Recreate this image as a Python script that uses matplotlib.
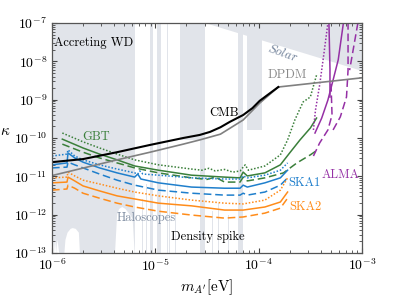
import numpy as np
import matplotlib
matplotlib.use("Agg")
import matplotlib.pyplot as plt
from matplotlib.ticker import FixedLocator, NullFormatter

plt.rcParams['font.family'] = 'serif'
plt.rcParams['font.serif'] = ['cmr10', 'DejaVu Serif']
plt.rcParams['mathtext.fontset'] = 'cm'
plt.rcParams['axes.formatter.use_mathtext'] = True
plt.rcParams['axes.unicode_minus'] = False

# ---------------- data (log10 values) ----------------
x_tick_exp = [-6, -5, -4, -3]
y_tick_exp = [-13, -12, -11, -10, -9, -8, -7]

cmb_logm = [-6.00, -5.70, -5.37, -5.05, -4.73, -4.57, -4.47, -4.37, -4.28, -4.15, -4.06, -3.99, -3.81]
cmb_logk = [-10.63, -10.55, -10.37, -10.18, -10.00, -9.92, -9.84, -9.72, -9.58, -9.40, -9.22, -9.03, -8.67]

dpdm_logm = [-6.00, -5.37, -5.05, -4.73, -4.57, -4.37, -4.15, -3.99, -3.81, -3.00]
dpdm_logk = [-10.98, -10.57, -10.37, -10.16, -10.05, -9.90, -9.53, -9.09, -8.67, -8.43]

gbt_dot_logm = [-5.90, -5.70, -5.54, -5.37, -5.20, -4.97, -4.65, -4.55, -4.48, -4.42, -4.33, -4.25, -4.18, -4.15, -4.13, -4.10, -3.94, -3.79, -3.72, -3.65, -3.57, -3.50, -3.44]
gbt_dot_logk = [-9.87, -10.10, -10.26, -10.42, -10.57, -10.70, -10.81, -10.84, -10.79, -10.86, -10.82, -10.89, -10.86, -10.76, -10.70, -10.84, -10.73, -10.44, -10.05, -9.53, -9.06, -8.93, -8.36]
gbt_sol_logm = [-5.90, -5.70, -5.54, -5.37, -5.20, -4.97, -4.65, -4.33, -4.18, -4.15, -4.11, -3.94, -3.79, -3.70, -3.60, -3.50, -3.44]
gbt_sol_logk = [-10.03, -10.26, -10.42, -10.57, -10.73, -10.84, -10.97, -11.02, -11.04, -10.89, -10.99, -10.91, -10.70, -10.39, -10.05, -9.74, -9.48]
gbt_dash_logm = [-5.90, -5.70, -5.54, -5.37, -5.20, -4.97, -4.65, -4.50, -4.42, -4.33, -4.18, -4.15, -4.11, -3.94, -3.76, -3.63, -3.50, -3.43]
gbt_dash_logk = [-10.16, -10.37, -10.52, -10.65, -10.78, -10.91, -11.04, -11.08, -11.02, -11.15, -11.15, -11.02, -11.12, -11.04, -10.91, -10.65, -10.44, -10.31]

ska1_dot_logm = [-6.00, -5.855, -5.845, -5.78, -5.70, -5.54, -5.37, -5.20, -5.17, -5.15, -5.12, -4.97, -4.65, -4.33, -4.18, -4.15, -4.11, -3.94, -3.79, -3.72]
ska1_dot_logk = [-10.47, -10.42, -10.31, -10.47, -10.57, -10.70, -10.81, -10.91, -10.94, -10.86, -10.94, -10.97, -11.04, -11.07, -11.07, -10.99, -11.04, -10.97, -10.84, -10.65]
ska1_sol_logm = [-6.00, -5.855, -5.845, -5.78, -5.70, -5.54, -5.37, -5.20, -5.17, -5.14, -4.97, -4.65, -4.33, -4.18, -4.15, -4.11, -3.94, -3.79, -3.72]
ska1_sol_logk = [-10.70, -10.65, -10.39, -10.52, -10.63, -10.78, -10.91, -11.02, -10.94, -11.07, -11.17, -11.28, -11.31, -11.31, -11.23, -11.28, -11.17, -11.04, -10.84]
ska1_dash_logm = [-6.00, -5.855, -5.845, -5.78, -5.70, -5.54, -5.37, -5.20, -4.97, -4.65, -4.33, -4.18, -4.15, -4.11, -3.94, -3.79, -3.72]
ska1_dash_logk = [-10.78, -10.76, -10.63, -10.70, -10.78, -10.94, -11.10, -11.23, -11.36, -11.44, -11.49, -11.49, -11.44, -11.49, -11.41, -11.23, -11.04]

ska2_logm = [-6.00, -5.855, -5.845, -5.78, -5.70, -5.54, -5.37, -5.20, -4.97, -4.65, -4.33, -4.15, -3.94, -3.79, -3.72]
ska2_dot_logk = [-11.04, -11.02, -10.89, -10.99, -11.10, -11.20, -11.31, -11.41, -11.51, -11.62, -11.70, -11.72, -11.62, -11.36, -11.04]
ska2_sol_logk = [-11.17, -11.15, -11.02, -11.12, -11.25, -11.38, -11.51, -11.59, -11.70, -11.77, -11.88, -11.88, -11.80, -11.67, -11.41]
ska2_dash_logk = [-11.36, -11.33, -11.23, -11.31, -11.44, -11.57, -11.70, -11.80, -11.91, -12.01, -12.09, -12.06, -11.96, -11.83, -11.57]

alma_dot_logm = [-3.47, -3.45, -3.41, -3.37, -3.33]
alma_dot_logk = [-9.79, -9.27, -8.62, -7.83, -7.00]
alma_sol1_logm = [-3.455, -3.39, -3.33, -3.28, -3.23, -3.18]
alma_sol1_logk = [-9.87, -9.48, -9.01, -8.49, -7.96, -7.00]
alma_sol2_logm = [-3.32, -3.31, -3.31]
alma_sol2_logk = [-7.00, -8.20, -8.93]
alma_dash1_logm = [-3.47, -3.41, -3.33, -3.29, -3.30]
alma_dash1_logk = [-10.47, -10.13, -9.79, -9.40, -8.57]
alma_dash2_logm = [-3.28, -3.21, -3.15, -3.135, -3.135]
alma_dash2_logk = [-9.79, -9.45, -8.93, -8.23, -7.00]
alma_dash3_logm = [-3.04, -3.12]
alma_dash3_logk = [-7.00, -8.23]

# excluded regions: (logm_lo, logm_hi, logk_lo, logk_hi)
grey_boxes = [
    (-6.00, -5.20, -13.0, -7.0),
    (-5.05, -5.02, -13.0, -7.0),
    (-4.98, -4.945, -13.0, -7.0),
    (-4.89, -4.88, -13.0, -7.0),
    (-4.76, -4.54, -10.05, -7.0),
    (-4.57, -4.52, -13.0, -7.0),
    (-4.20, -4.15, -13.0, -7.0),
    (-4.11, -3.97, -9.79, -7.0),
    (-5.17, -5.165, -13.0, -11.3),
    (-5.13, -5.12, -13.0, -11.6),
    (-5.09, -5.08, -13.0, -11.2),
    (-4.87, -4.86, -13.0, -11.5),
    (-4.81, -4.80, -13.0, -11.0),
    (-4.45, -4.44, -13.0, -11.9),
    (-4.39, -4.38, -13.0, -11.7),
    (-4.30, -4.29, -13.0, -12.0),
]
solar_logm = [-4.52, -3.00, -3.00]
solar_logk = [-7.00, -8.25, -7.00]
white_arch_logm = [-5.88, -5.87, -5.85, -5.82, -5.80, -5.77, -5.74, -5.73]
white_arch_logk = [-13.0, -12.66, -12.47, -12.37, -12.35, -12.37, -12.47, -13.0]
white_spk_logm = [-5.99, -5.985, -5.98, -5.97, -5.96, -5.95, -5.94, -5.93]
white_spk_logk = [-13.0, -12.55, -13.0, -12.6, -13.0, -12.65, -12.8, -13.0]
white_low_logm = [-5.39, -5.37, -5.35, -5.32, -5.29, -5.26, -5.22, -5.20]
white_low_logk = [-13.0, -12.0, -11.85, -11.80, -11.85, -11.95, -12.1, -13.0]

GREY = '#e1e4ea'
GREEN = '#3a7f3a'
BLUE = '#1f7fcc'
ORANGE = '#ff8c1a'
PURPLE = '#9530a5'

def p(a):
    return 10.0 ** np.asarray(a, dtype=float)

fig = plt.figure(figsize=(3.99, 2.99), dpi=100)
ax = fig.add_axes([52/399, 1-253/299, 310/399, 230/299])
ax.set_xscale('log'); ax.set_yscale('log')

for lo, hi, klo, khi in grey_boxes:
    ax.fill_between(p([lo, hi]), p([klo, klo]), p([khi, khi]), color=GREY, lw=0, zorder=1)
ax.fill(p(solar_logm), p(solar_logk), color=GREY, lw=0, zorder=1)
for xm, yk in [(white_arch_logm, white_arch_logk), (white_spk_logm, white_spk_logk), (white_low_logm, white_low_logk)]:
    ax.fill(p(xm), p(yk), color='white', lw=0, zorder=1.5)

dot = (0, (1, 1.2))
dash = (0, (5, 2.5))
lw = 1.1
for xm, yk, ls, c in [
    (gbt_dot_logm, gbt_dot_logk, dot, GREEN), (gbt_sol_logm, gbt_sol_logk, '-', GREEN), (gbt_dash_logm, gbt_dash_logk, dash, GREEN),
    (ska1_dot_logm, ska1_dot_logk, dot, BLUE), (ska1_sol_logm, ska1_sol_logk, '-', BLUE), (ska1_dash_logm, ska1_dash_logk, dash, BLUE),
    (ska2_logm, ska2_dot_logk, dot, ORANGE), (ska2_logm, ska2_sol_logk, '-', ORANGE), (ska2_logm, ska2_dash_logk, dash, ORANGE),
    (alma_dot_logm, alma_dot_logk, dot, PURPLE), (alma_sol1_logm, alma_sol1_logk, '-', PURPLE), (alma_sol2_logm, alma_sol2_logk, '-', PURPLE),
    (alma_dash1_logm, alma_dash1_logk, dash, PURPLE), (alma_dash2_logm, alma_dash2_logk, dash, PURPLE), (alma_dash3_logm, alma_dash3_logk, dash, PURPLE),
]:
    ax.plot(p(xm), p(yk), color=c, ls=ls, lw=lw, zorder=3)

ax.plot(p(dpdm_logm), p(dpdm_logk), color='#808080', lw=1.2, zorder=4)
ax.plot(p(cmb_logm), p(cmb_logk), color='black', lw=1.5, zorder=5)

fs = 9
ax.text(1.05e-6, 10**-7.52, 'Accreting WD', fontsize=fs, va='center', ha='left', zorder=6)
ax.text(10**-3.77, 10**-7.8, r'$\mathit{Solar}$', fontsize=fs, color='#6c7d96', rotation=-20, ha='center', va='center', zorder=6)
ax.text(10**-3.72, 10**-8.36, 'DPDM', fontsize=fs, color='#8a8a8a', ha='center', va='center', zorder=6)
ax.text(10**-4.34, 10**-9.35, 'CMB', fontsize=fs, color='black', ha='center', va='center', zorder=6)
ax.text(10**-5.57, 10**-9.96, 'GBT', fontsize=fs, color=GREEN, ha='center', va='center', zorder=6)
ax.text(10**-3.56, 10**-11.17, 'SKA1', fontsize=fs, color=BLUE, ha='center', va='center', zorder=6)
ax.text(10**-3.55, 10**-11.80, 'SKA2', fontsize=fs, color=ORANGE, ha='center', va='center', zorder=6)
ax.text(10**-3.21, 10**-10.96, 'ALMA', fontsize=fs, color=PURPLE, ha='center', va='center', zorder=6)
ax.text(10**-5.09, 10**-12.09, 'Haloscopes', fontsize=fs, color='#7d8ba0', ha='center', va='center', zorder=6)
ax.text(10**-4.49, 10**-12.58, 'Density spike', fontsize=fs, color='black', ha='center', va='center', zorder=6)

ax.set_xlim(1e-6, 1e-3); ax.set_ylim(1e-13, 1e-7)
ax.xaxis.set_major_locator(FixedLocator(p(x_tick_exp)))
ax.yaxis.set_major_locator(FixedLocator(p(y_tick_exp)))
ax.xaxis.set_minor_locator(FixedLocator([s * 10.0**e for e in x_tick_exp[:-1] for s in range(2, 10)]))
ax.yaxis.set_minor_locator(FixedLocator([s * 10.0**e for e in y_tick_exp[:-1] for s in range(2, 10)]))
ax.set_xticklabels([r'$10^{%d}$' % e for e in x_tick_exp])
ax.set_yticklabels([r'$10^{%d}$' % e for e in y_tick_exp])
ax.xaxis.set_minor_formatter(NullFormatter())
ax.yaxis.set_minor_formatter(NullFormatter())

ax.set_xlabel(r"$m_{A'}[\mathrm{eV}]$", fontsize=11, labelpad=2)
ax.set_ylabel(r'$\kappa$', fontsize=11, rotation=0, labelpad=6)
ax.tick_params(which='both', direction='in', top=True, right=True, labelsize=10, color='#444444')
ax.tick_params(which='major', length=3.5)
ax.tick_params(which='minor', length=2)
for s in ax.spines.values():
    s.set_color('#555555'); s.set_linewidth(0.9); s.set_zorder(7)

fig.savefig('out.png', dpi=100)
